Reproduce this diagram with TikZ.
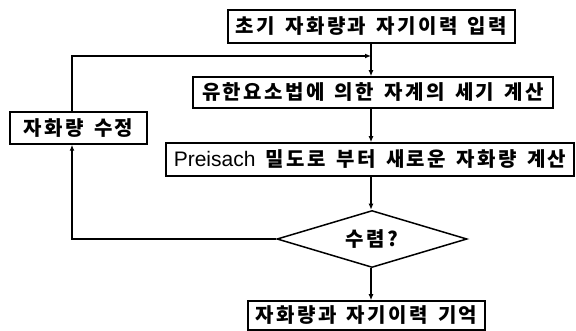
\documentclass[tikz,border=0pt]{standalone}
\usepackage{fontspec}
\usetikzlibrary{arrows.meta,shapes.geometric}
\newfontfamily\kr[LetterSpace=12,WordSpace=1.5]{Noto Sans CJK KR}
\newfontfamily\lat{Liberation Sans}
\begin{document}
\begin{tikzpicture}[x=1pt,y=-1pt,
  line width=1.5pt,
  box/.style={draw, inner sep=0pt, fill=white, font=\kr\bfseries\fontsize{20}{22}\selectfont},
  dec/.style={draw, shape=diamond, aspect=3.3, inner sep=0pt, fill=white, font=\kr\bfseries\fontsize{20}{22}\selectfont},
  arr/.style={-{Latex[length=6pt,width=5pt]}}]
\useasboundingbox (0,0) rectangle (576,331);
\fill[white] (0,0) rectangle (576,331);
\coordinate (cx) at (371,0);
\coordinate (lx) at (72,0);
\coordinate (jy) at (0,56);
\node[box, minimum width=287pt, minimum height=33pt] (b1) at (371.5,26.5) {초기 자화량과 자기이력 입력};
\node[box, minimum width=360pt, minimum height=31pt] (b2) at (373,92.5) {유한요소법에 의한 자계의 세기 계산};
\node[box, minimum width=408pt, minimum height=33pt] (b3) at (370,159.5) {{\lat\mdseries\fontsize{21}{22}\selectfont Preisach} 밀도로 부터 새로운 자화량 계산};
\node[dec, minimum width=190pt, minimum height=57pt] (dia) at (372,239) {수렴?};
\node[box, minimum width=237pt, minimum height=29pt] (b4) at (366.5,315.5) {자화량과 자기이력 기억};
\node[box, minimum width=137pt, minimum height=32pt] (lb) at (78.5,128) {자화량 수정};
\draw[arr] (b1.south -| cx) -- (b2.north -| cx);
\draw[arr] (b2.south -| cx) -- (b3.north -| cx);
\draw[arr] (b3.south -| cx) -- (dia.north -| cx);
\draw[arr] (dia.south -| cx) -- (b4.north -| cx);
\draw[arr] (dia.west) -| (lx |- lb.south);
\draw[arr] (lx |- lb.north) |- (cx |- jy);
\end{tikzpicture}
\end{document}
